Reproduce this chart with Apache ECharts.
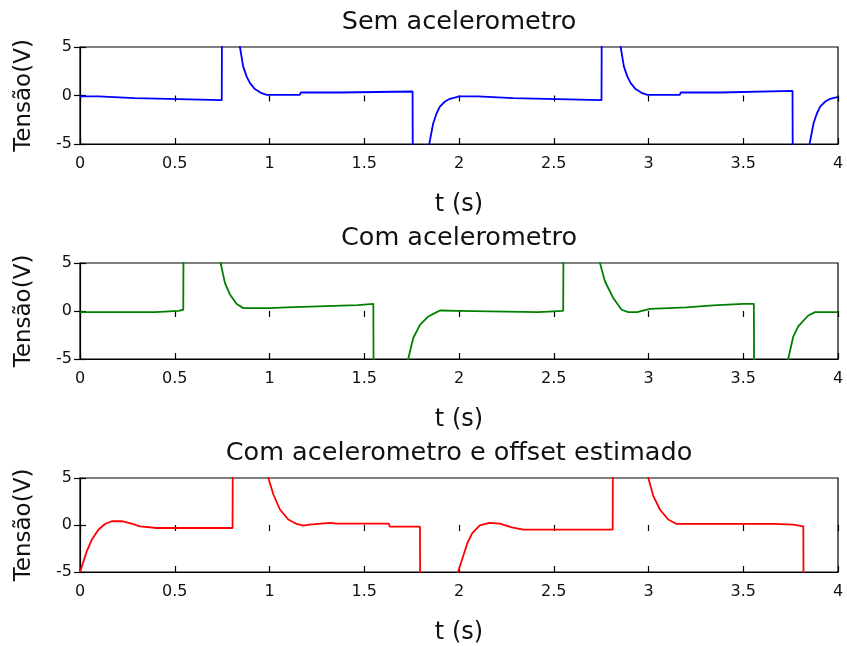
<!DOCTYPE html>
<html>
<head>
<meta charset="utf-8">
<script src="https://cdn.jsdelivr.net/npm/echarts@6/dist/echarts.min.js"></script>
<style>
  html, body { margin: 0; padding: 0; background: #fff; }
  #chart { width: 847px; height: 646px; }
</style>
</head>
<body>
<div id="chart"></div>
<script>
var titles = ['Sem acelerometro', 'Com acelerometro', 'Com acelerometro e offset estimado'];
var xTicks = [0, 4, 0.5];
var yTicks = [-5, 5, 5];

// sem acelerometro (azul)
var tBlue = [0, 0.097, 0.10, 0.29, 0.295, 0.748, 0.750, 0.80, 0.844, 0.861, 0.879, 0.897, 0.923, 0.958, 0.985,
  1.16, 1.165, 1.37, 1.375, 1.755, 1.757, 1.80, 1.843, 1.864, 1.882, 1.899, 1.926, 1.952, 1.987, 2.0,
  2.1, 2.105, 2.285, 2.29, 2.752, 2.754, 2.80, 2.853, 2.87, 2.888, 2.906, 2.932, 2.967, 2.994,
  3.165, 3.17, 3.38, 3.385, 3.76, 3.762, 3.80, 3.85, 3.871, 3.889, 3.906, 3.933, 3.959, 3.99, 4.0];
var vBlue = [-0.1, -0.1, -0.28, -0.28, -0.48, -0.48, 12, 9, 5, 3.0, 1.97, 1.28, 0.66, 0.24, 0.07,
  0.07, 0.31, 0.31, 0.41, 0.41, -12, -9, -5, -2.86, -1.83, -1.14, -0.62, -0.34, -0.17, -0.1,
  -0.1, -0.28, -0.28, -0.48, -0.48, 12, 9, 5, 3.0, 1.97, 1.28, 0.66, 0.24, 0.07,
  0.07, 0.31, 0.31, 0.48, 0.48, -12, -9, -5, -2.86, -1.83, -1.14, -0.62, -0.34, -0.2, -0.17];

// com acelerometro (verde)
var tGreen = [0, 0.396, 0.40, 0.52, 0.525, 0.545, 0.547, 0.70, 0.742, 0.765, 0.792, 0.827, 0.862, 1.0, 1.003,
  1.09, 1.093, 1.465, 1.47, 1.548, 1.55, 1.70, 1.732, 1.758, 1.794, 1.838, 1.882, 1.90, 1.994, 1.996,
  2.418, 2.42, 2.55, 2.552, 2.70, 2.744, 2.77, 2.814, 2.858, 2.893, 2.94, 3.008, 3.2, 3.34, 3.5,
  3.556, 3.558, 3.70, 3.737, 3.764, 3.79, 3.843, 3.879, 4.0];
var vGreen = [-0.12, -0.12, 0.02, 0.02, 0.13, 0.13, 12, 9, 5, 2.9, 1.7, 0.72, 0.3, 0.3, 0.37,
  0.37, 0.54, 0.61, 0.75, 0.75, -12, -9, -5, -2.84, -1.44, -0.57, -0.12, 0.05, 0.02, -0.12,
  -0.12, 0.02, 0.02, 12, 9, 5, 3.1, 1.35, 0.13, -0.12, -0.12, 0.23, 0.37, 0.58, 0.75,
  0.75, -12, -9, -5, -2.66, -1.6, -0.47, -0.12, -0.12];

// com acelerometro e offset estimado (vermelho)
var tRed = [0, 0.035, 0.062, 0.097, 0.132, 0.167, 0.22, 0.273, 0.317, 0.405, 0.805, 0.807, 0.95, 0.994,
  1.02, 1.055, 1.099, 1.143, 1.178, 1.21, 1.32, 1.355, 1.63, 1.635, 1.794, 1.796, 1.95, 1.995,
  2.018, 2.044, 2.07, 2.11, 2.16, 2.216, 2.278, 2.34, 2.811, 2.813, 2.95, 2.999,
  3.025, 3.06, 3.104, 3.148, 3.32, 3.325, 3.335, 3.66, 3.665, 3.764, 3.817, 3.819, 4.0];
var vRed = [-5, -2.84, -1.58, -0.5, 0.11, 0.4, 0.4, 0.14, -0.14, -0.32, -0.32, 12, 9, 5,
  3.27, 1.65, 0.58, 0.11, -0.07, 0.04, 0.22, 0.14, 0.14, -0.18, -0.18, -12, -9, -5,
  -3.56, -1.94, -0.86, -0.04, 0.22, 0.14, -0.25, -0.5, -0.5, 12, 9, 5,
  3.1, 1.65, 0.58, 0.11, 0.11, 0.22, 0.11, 0.11, -0.04, 0.04, -0.14, -12, -12];

var colors = ['#0000ff', '#008000', '#ff0000'];
var tops = [47, 263, 478];
var heights = [97, 96, 94];

function zip(t, v) {
  return t.map(function (x, i) { return [x, v[i]]; });
}
var seriesData = [zip(tBlue, vBlue), zip(tGreen, vGreen), zip(tRed, vRed)];

var font = 'DejaVu Sans';
var grids = [], xAxes = [], yAxes = [], series = [], graphics = [];

for (var i = 0; i < 3; i++) {
  grids.push({
    left: 80, right: 9, top: tops[i], height: heights[i],
    show: true, borderColor: '#000', borderWidth: 1.2, backgroundColor: '#fff'
  });
  xAxes.push({
    type: 'value', gridIndex: i, position: 'bottom',
    min: xTicks[0], max: xTicks[1], interval: xTicks[2],
    name: 't (s)', nameLocation: 'middle', nameGap: 49,
    nameTextStyle: { fontFamily: font, fontSize: 24, color: '#111' },
    axisLine: { show: true, onZero: false, lineStyle: { color: '#000', width: 1.2 } },
    axisTick: { show: true, inside: true, length: 6, lineStyle: { color: '#000', width: 1.2 } },
    axisLabel: { fontFamily: font, fontSize: 16, color: '#111', margin: 12 },
    splitLine: { show: false }
  });
  xAxes.push({
    type: 'value', gridIndex: i, position: 'top',
    min: xTicks[0], max: xTicks[1], interval: xTicks[2],
    axisLine: { show: false },
    axisTick: { show: true, inside: true, length: 6, lineStyle: { color: '#000', width: 1.2 } },
    axisLabel: { show: false },
    splitLine: { show: false }
  });
  yAxes.push({
    type: 'value', gridIndex: i, position: 'left',
    min: yTicks[0], max: yTicks[1], interval: yTicks[2],
    name: 'Tensão(V)', nameLocation: 'middle', nameGap: 44,
    nameTextStyle: { fontFamily: font, fontSize: 23, color: '#111' },
    axisLine: { show: true, onZero: false, lineStyle: { color: '#000', width: 1.2 } },
    axisTick: { show: true, inside: true, length: 6, lineStyle: { color: '#000', width: 1.2 } },
    axisLabel: { fontFamily: font, fontSize: 16, color: '#111', margin: 8 },
    splitLine: { show: false }
  });
  yAxes.push({
    type: 'value', gridIndex: i, position: 'right',
    min: yTicks[0], max: yTicks[1], interval: yTicks[2],
    axisLine: { show: false },
    axisTick: { show: true, inside: true, length: 6, lineStyle: { color: '#000', width: 1.2 } },
    axisLabel: { show: false },
    splitLine: { show: false }
  });
  series.push({
    type: 'line', xAxisIndex: i * 2, yAxisIndex: i * 2,
    data: seriesData[i], showSymbol: false, symbol: 'none', clip: true,
    lineStyle: { color: colors[i], width: 1.8 }, animation: false
  });
  graphics.push({
    type: 'text', x: 459, y: tops[i] - 12,
    style: { text: titles[i], fontFamily: font, fontSize: 25.5, fill: '#111',
      textAlign: 'center', textVerticalAlign: 'bottom' }
  });
}

var myChart = echarts.init(document.getElementById('chart'));
myChart.setOption({
  animation: false,
  grid: grids,
  xAxis: xAxes,
  yAxis: yAxes,
  series: series,
  graphic: graphics
});
</script>
</body>
</html>
